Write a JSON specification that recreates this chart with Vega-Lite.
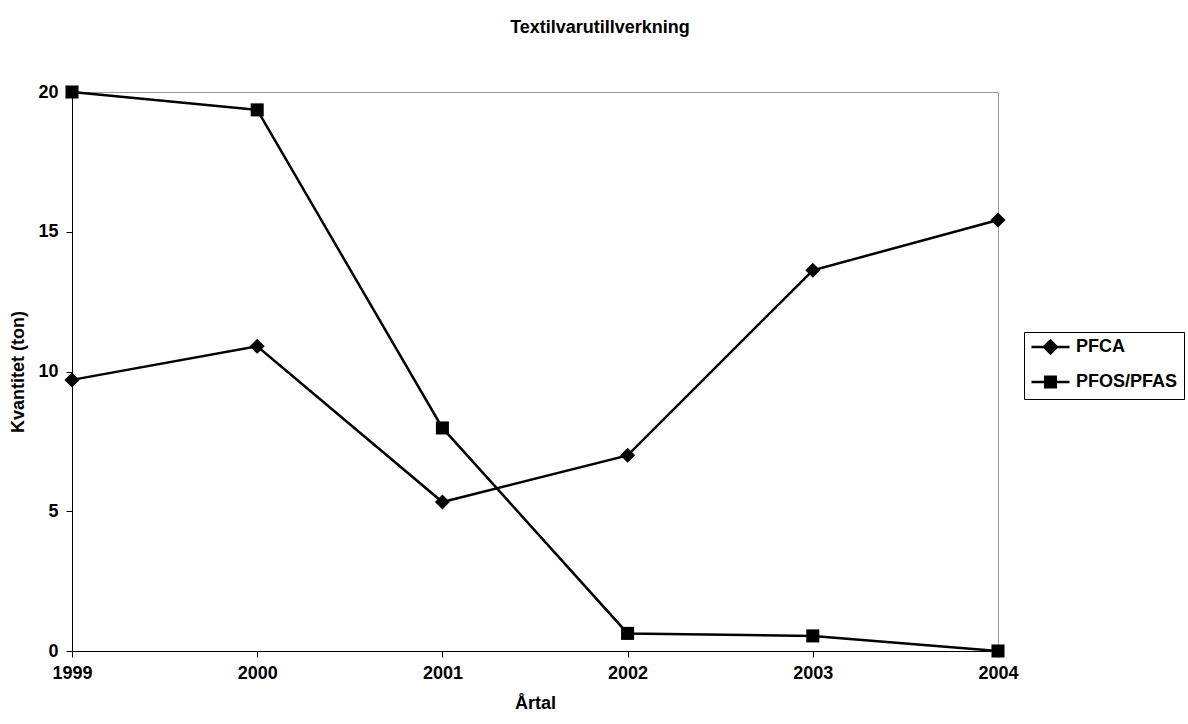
{
  "$schema": "https://vega.github.io/schema/vega-lite/v6.json",
  "width": 926,
  "height": 559,
  "autosize": {"type": "none"},
  "padding": {"left": 72, "top": 92, "right": 190, "bottom": 73},
  "background": "white",
  "title": {
    "text": "Textilvarutillverkning",
    "anchor": "middle",
    "frame": "group",
    "dx": 65,
    "offset": 46,
    "font": "Liberation Sans",
    "fontSize": 18,
    "fontWeight": "bold",
    "color": "black"
  },
  "config": {
    "view": {"stroke": "#999999", "strokeWidth": 1},
    "font": "Liberation Sans"
  },
  "data": {
    "values": [
      {"year": "1999", "series": "PFCA", "value": 9.7},
      {"year": "2000", "series": "PFCA", "value": 10.9},
      {"year": "2001", "series": "PFCA", "value": 5.33},
      {"year": "2002", "series": "PFCA", "value": 7.0},
      {"year": "2003", "series": "PFCA", "value": 13.62},
      {"year": "2004", "series": "PFCA", "value": 15.42},
      {"year": "1999", "series": "PFOS/PFAS", "value": 20.0},
      {"year": "2000", "series": "PFOS/PFAS", "value": 19.36},
      {"year": "2001", "series": "PFOS/PFAS", "value": 7.98},
      {"year": "2002", "series": "PFOS/PFAS", "value": 0.63},
      {"year": "2003", "series": "PFOS/PFAS", "value": 0.54},
      {"year": "2004", "series": "PFOS/PFAS", "value": 0.0}
    ]
  },
  "encoding": {
    "x": {
      "field": "year",
      "type": "ordinal",
      "scale": {"type": "point", "padding": 0},
      "axis": {
        "title": "Årtal",
        "labelAngle": 0,
        "labelFont": "Liberation Sans",
        "labelFontSize": 18,
        "labelFontWeight": "bold",
        "labelColor": "black",
        "labelPadding": 7,
        "titleFont": "Liberation Sans",
        "titleFontSize": 18,
        "titleFontWeight": "bold",
        "titleColor": "black",
        "titlePadding": 12,
        "domainColor": "black",
        "tickColor": "black",
        "tickSize": 6,
        "grid": false
      }
    },
    "y": {
      "field": "value",
      "type": "quantitative",
      "scale": {"domain": [0, 20], "nice": false},
      "axis": {
        "title": "Kvantitet (ton)",
        "values": [0, 5, 10, 15, 20],
        "labelFont": "Liberation Sans",
        "labelFontSize": 18,
        "labelFontWeight": "bold",
        "labelColor": "black",
        "labelPadding": 8,
        "titleFont": "Liberation Sans",
        "titleFontSize": 18,
        "titleFontWeight": "bold",
        "titleColor": "black",
        "titlePadding": 10,
        "domainColor": "black",
        "tickColor": "black",
        "tickSize": 6,
        "grid": false
      }
    }
  },
  "layer": [
    {
      "mark": {"type": "line", "color": "black", "strokeWidth": 2.5},
      "encoding": {"detail": {"field": "series"}}
    },
    {
      "mark": {"type": "point", "filled": true, "color": "black", "opacity": 1, "size": 225},
      "encoding": {
        "shape": {
          "field": "series",
          "type": "nominal",
          "scale": {
            "domain": ["PFCA", "PFOS/PFAS"],
            "range": ["M-1,0L0,-1L1,0L0,1Z", "M-0.87,-0.87L0.87,-0.87L0.87,0.87L-0.87,0.87Z"]
          },
          "legend": null
        }
      }
    },
    {
      "transform": [{"filter": "datum.value < -100"}],
      "mark": {"type": "point", "filled": false, "color": "black", "strokeWidth": 2.5, "opacity": 1, "size": 225},
      "encoding": {
        "shape": {
          "field": "series",
          "type": "nominal",
          "scale": {
            "domain": ["PFCA", "PFOS/PFAS"],
            "range": [
              "M-1,0L4.07,0M0.68,0L1.53,-0.85L2.38,0L1.53,0.85ZM0.98,0L1.53,-0.55L2.08,0L1.53,0.55ZM1.28,0L1.53,-0.25L1.78,0L1.53,0.25Z",
              "M-1,0L4.07,0M0.83,-0.7L2.23,-0.7L2.23,0.7L0.83,0.7ZM1.13,-0.4L1.93,-0.4L1.93,0.4L1.13,0.4ZM1.43,-0.1L1.63,-0.1L1.63,0.1L1.43,0.1Z"
            ]
          },
          "legend": {
            "title": null,
            "orient": "none",
            "legendX": 952,
            "legendY": 240,
            "strokeColor": "black",
            "fillColor": "white",
            "padding": 6,
            "labelFont": "Liberation Sans",
            "labelFontSize": 18,
            "labelFontWeight": "bold",
            "labelColor": "black",
            "rowPadding": 12,
            "symbolSize": 225,
            "symbolStrokeColor": "black",
            "symbolStrokeWidth": 2.5,
            "labelOffset": 28
          }
        }
      }
    }
  ],
  "resolve": {"scale": {"shape": "independent"}, "legend": {"shape": "independent"}}
}
